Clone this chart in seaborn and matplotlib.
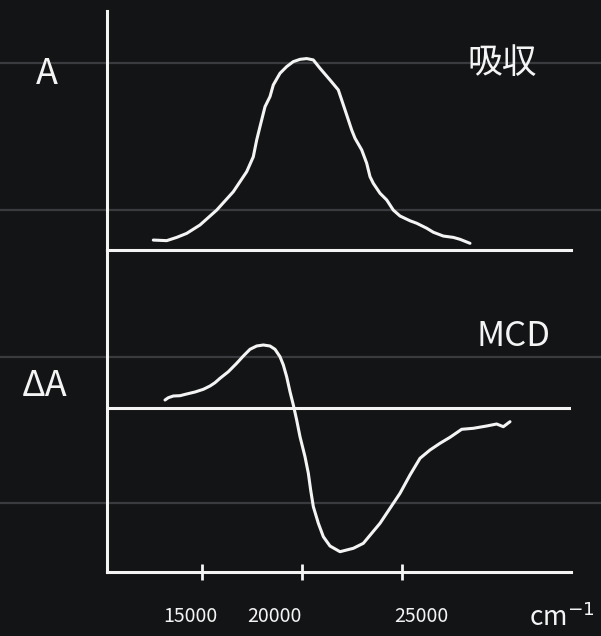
import matplotlib
matplotlib.use("Agg")
import matplotlib.pyplot as plt
import seaborn as sns
import pandas as pd

# absorption band (top panel), wavenumber in cm^-1, A normalised to peak
abs_wn = [12565, 13235, 13735, 14235, 14900, 15735, 16565, 17235, 17565, 17735,
          17900, 18150, 18400, 18565, 18900, 19235, 19565, 19900, 20235, 20565,
          20900, 21400, 21815, 21985, 22235, 22485, 22650, 22985, 23235, 23400,
          23565, 23900, 24235, 24565, 24900, 25400, 25735, 26235, 26565, 27065,
          27565, 27900, 28400]
abs_a = [0.052, 0.049, 0.066, 0.087, 0.131, 0.209, 0.305, 0.410, 0.488, 0.576,
         0.646, 0.750, 0.803, 0.864, 0.925, 0.960, 0.986, 0.998, 1.002, 0.995,
         0.951, 0.890, 0.838, 0.785, 0.707, 0.628, 0.585, 0.524, 0.454, 0.384,
         0.349, 0.297, 0.262, 0.209, 0.178, 0.153, 0.140, 0.114, 0.093, 0.073,
         0.066, 0.056, 0.035]

# MCD signal (bottom panel)
mcd_wn = [13150, 13317, 13567, 13900, 14233, 14650, 15067, 15400, 15650, 15900,
          16317, 16733, 17067, 17400, 17733, 18067, 18400, 18650, 18900, 19067,
          19233, 19400, 19567, 19733, 19900, 20150, 20317, 20433, 20567, 20817,
          21067, 21400, 21900, 22567, 23067, 23483, 23900, 24400, 24900, 25400,
          25900, 26400, 26900, 27400, 27983, 28567, 29233, 29733, 30067, 30400]
mcd_da = [0.075, 0.098, 0.115, 0.118, 0.135, 0.155, 0.182, 0.215, 0.248, 0.292,
          0.358, 0.442, 0.515, 0.582, 0.615, 0.625, 0.615, 0.582, 0.508, 0.425,
          0.308, 0.158, 0.025, -0.125, -0.292, -0.492, -0.658, -0.825, -0.992, -1.158,
          -1.292, -1.385, -1.442, -1.408, -1.358, -1.258, -1.158, -1.008, -0.858, -0.675,
          -0.508, -0.425, -0.358, -0.298, -0.218, -0.208, -0.185, -0.165, -0.192, -0.142]

tick_wn = [15000, 20000, 25000]
tick_labels = ["15000", "20000", "25000"]

bg_col = "#131416"
ink = "#f4f4f4"
rule_col = "#3a3b3e"

sns.set_theme(style="dark")
plt.rcParams['font.family'] = ['Noto Sans CJK JP', 'DejaVu Sans']

fig = plt.figure(figsize=(6.01, 6.36), dpi=100, facecolor=bg_col)

# notebook ruling in the background (pixel coordinates)
bg = fig.add_axes([0, 0, 1, 1], zorder=-1)
bg.set_xlim(0, 601)
bg.set_ylim(636, 0)
bg.set_facecolor(bg_col)
bg.axis("off")
for yy in [62.5, 209.5, 356.5, 503]:
    bg.axhline(yy, color=rule_col, lw=1.6)

xlim = (10250, 33450)
ax1 = fig.add_axes([107 / 601, 1 - 250 / 636, 464 / 601, 239 / 636])
ax2 = fig.add_axes([107 / 601, 1 - 572 / 636, 464 / 601, 322 / 636])

df_abs = pd.DataFrame({"wn": abs_wn, "A": abs_a})
df_mcd = pd.DataFrame({"wn": mcd_wn, "dA": mcd_da})

sns.lineplot(data=df_abs, x="wn", y="A", ax=ax1, color=ink, lw=2.2,
             estimator=None, sort=False, solid_capstyle="round", solid_joinstyle="round")
sns.lineplot(data=df_mcd, x="wn", y="dA", ax=ax2, color=ink, lw=2.2,
             estimator=None, sort=False, solid_capstyle="round", solid_joinstyle="round")
ax2.axhline(0, color=ink, lw=2.2)

ax1.set_ylim(0, 1.251)
ax2.set_ylim(-1.645, 1.575)

for ax in (ax1, ax2):
    ax.set_xlim(*xlim)
    ax.set_facecolor("none")
    ax.grid(False)
    ax.set_xlabel("")
    ax.set_ylabel("")
    ax.set_yticks([])
    for side in ("top", "right"):
        ax.spines[side].set_visible(False)
    for side in ("left", "bottom"):
        ax.spines[side].set_visible(True)
        ax.spines[side].set_color(ink)
        ax.spines[side].set_linewidth(2.2)

ax1.set_xticks([])
ax2.set_xticks(tick_wn)
ax2.set_xticklabels([])
ax2.tick_params(axis="x", direction="inout", length=12, width=2, color=ink, bottom=True)

# hand-written style labels
bg.text(47, 74, "A", color=ink, fontsize=26, ha="center", va="center")
bg.text(45, 386, "ΔA", color=ink, fontsize=26, ha="center", va="center")
bg.text(502, 63, "吸収", color=ink, fontsize=25, ha="center", va="center")
bg.text(513, 336, "MCD", color=ink, fontsize=25, ha="center", va="center")
for lx, lab in zip([190, 274, 421], tick_labels):
    bg.text(lx, 616, lab, color=ink, fontsize=14, ha="center", va="center")
bg.text(562, 618, "cm$^{-1}$", color=ink, fontsize=19, ha="center", va="center")

fig.savefig("out.png", dpi=100, facecolor=bg_col)
